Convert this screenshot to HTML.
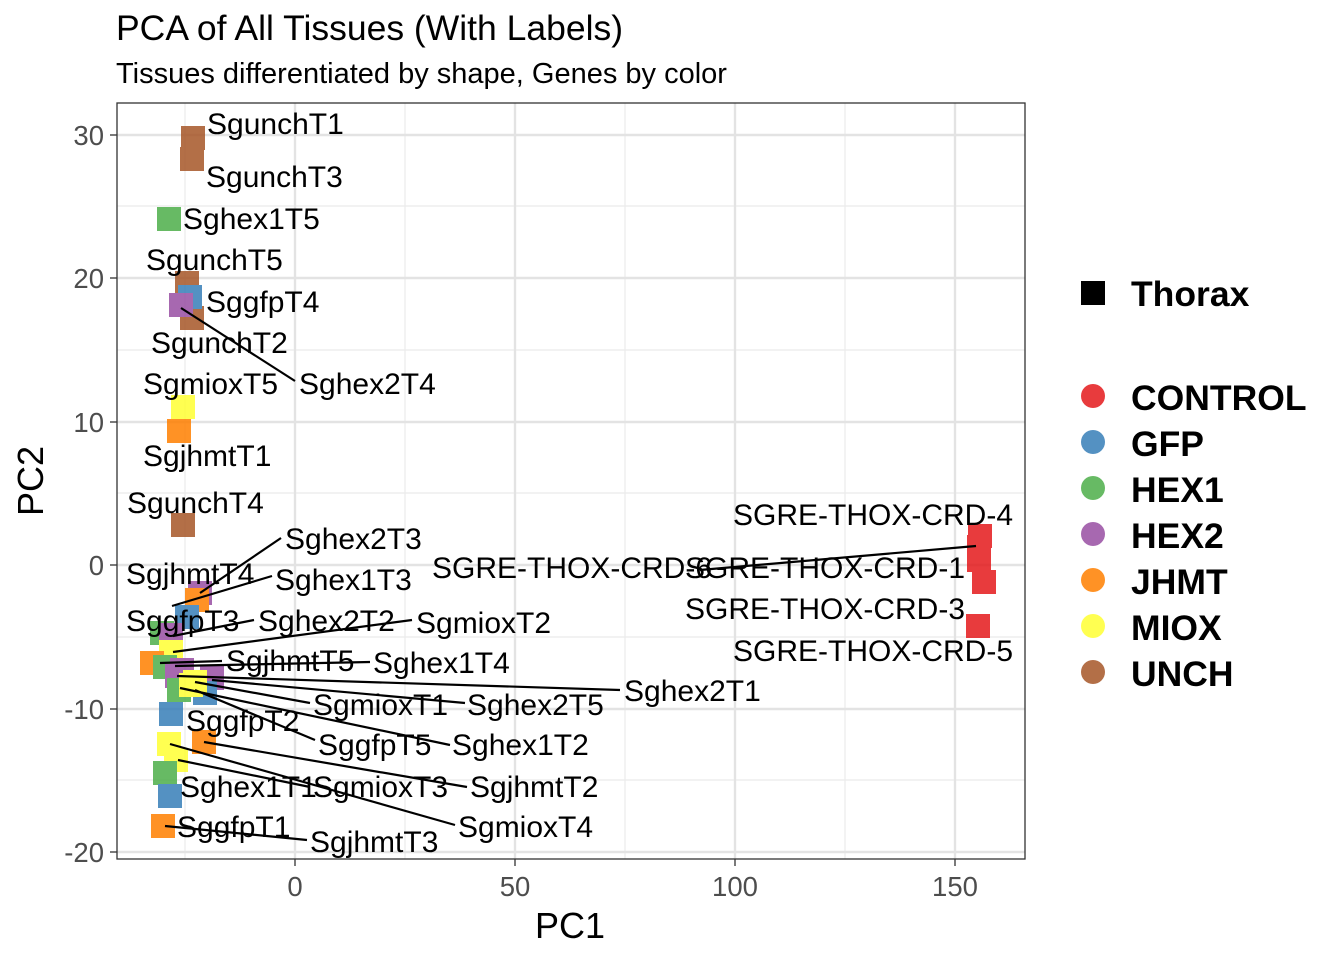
<!DOCTYPE html>
<html><head><meta charset="utf-8"><style>
html,body{margin:0;padding:0;background:#fff;}
svg{display:block;font-family:"Liberation Sans",Arial,sans-serif;}
</style></head><body>
<svg width="1344" height="960" viewBox="0 0 1344 960" xmlns="http://www.w3.org/2000/svg">
<rect width="1344" height="960" fill="#fff"/>
<text x="116" y="40" font-size="35.5" fill="#000">PCA of All Tissues (With Labels)</text>
<text x="116" y="83" font-size="29" fill="#000">Tissues differentiated by shape, Genes by color</text>
<!-- grid -->
<g stroke="#ebebeb" stroke-width="1.2">
<line x1="185" y1="103" x2="185" y2="859"/><line x1="405" y1="103" x2="405" y2="859"/>
<line x1="625" y1="103" x2="625" y2="859"/><line x1="845" y1="103" x2="845" y2="859"/>
<line x1="117" y1="206" x2="1025" y2="206"/><line x1="117" y1="350" x2="1025" y2="350"/>
<line x1="117" y1="493" x2="1025" y2="493"/><line x1="117" y1="637" x2="1025" y2="637"/>
<line x1="117" y1="780" x2="1025" y2="780"/>
</g>
<g stroke="#e3e3e3" stroke-width="2.4">
<line x1="295" y1="103" x2="295" y2="859"/><line x1="515" y1="103" x2="515" y2="859"/>
<line x1="735" y1="103" x2="735" y2="859"/><line x1="955" y1="103" x2="955" y2="859"/>
<line x1="117" y1="135" x2="1025" y2="135"/><line x1="117" y1="278" x2="1025" y2="278"/>
<line x1="117" y1="422" x2="1025" y2="422"/><line x1="117" y1="565" x2="1025" y2="565"/>
<line x1="117" y1="709" x2="1025" y2="709"/><line x1="117" y1="852" x2="1025" y2="852"/>
</g>
<!-- points -->
<g opacity="0.85">
<g fill="#A65628">
<rect x="181" y="126" width="24" height="24"/><rect x="180" y="147" width="24" height="24"/>
<rect x="175" y="271" width="24" height="24"/><rect x="180" y="306" width="24" height="24"/>
<rect x="171" y="513" width="24" height="24"/>
</g>
<rect x="157" y="207" width="24" height="24" fill="#4DAF4A"/>
<rect x="178" y="285" width="24" height="24" fill="#377EB8"/>
<rect x="169" y="293" width="24" height="24" fill="#984EA3"/>
<rect x="171" y="395" width="24" height="24" fill="#FFFF33"/>
<rect x="167" y="419" width="24" height="24" fill="#FF7F00"/>
<rect x="188" y="581" width="24" height="24" fill="#984EA3"/>
<rect x="185" y="588" width="24" height="24" fill="#FF7F00"/>
<rect x="175" y="605" width="24" height="24" fill="#377EB8"/>
<rect x="150" y="621" width="24" height="24" fill="#4DAF4A"/>
<rect x="159" y="623" width="24" height="24" fill="#984EA3"/>
<rect x="159" y="640" width="24" height="24" fill="#FFFF33"/>
<rect x="140" y="651" width="24" height="24" fill="#FF7F00"/>
<rect x="153" y="655" width="24" height="24" fill="#4DAF4A"/>
<rect x="170" y="658" width="24" height="24" fill="#984EA3"/>
<rect x="165" y="664" width="24" height="24" fill="#984EA3"/>
<rect x="200" y="666" width="24" height="24" fill="#984EA3"/>
<rect x="167" y="678" width="24" height="24" fill="#4DAF4A"/>
<rect x="193" y="681" width="24" height="24" fill="#377EB8"/>
<rect x="183" y="670" width="24" height="24" fill="#FFFF33"/>
<rect x="179" y="673" width="24" height="24" fill="#FFFF33"/>
<rect x="159" y="702" width="24" height="24" fill="#377EB8"/>
<rect x="192" y="730" width="24" height="24" fill="#FF7F00"/>
<rect x="157" y="732" width="24" height="24" fill="#FFFF33"/>
<rect x="164" y="748" width="24" height="24" fill="#FFFF33"/>
<rect x="153" y="761" width="24" height="24" fill="#4DAF4A"/>
<rect x="158" y="784" width="24" height="24" fill="#377EB8"/>
<rect x="151" y="814" width="24" height="24" fill="#FF7F00"/>
<g fill="#E41A1C">
<rect x="968" y="524" width="24" height="24"/><rect x="967" y="535" width="24" height="24"/>
<rect x="967" y="548" width="24" height="24"/><rect x="972" y="570" width="24" height="24"/>
<rect x="966" y="614" width="24" height="24"/>
</g>
</g>
<!-- segments -->
<g stroke="#000" stroke-width="2.2" fill="none">
<line x1="181" y1="308" x2="295" y2="381"/>
<line x1="200" y1="593" x2="281" y2="538"/>
<line x1="172" y1="606" x2="272" y2="576"/>
<line x1="173" y1="636" x2="254" y2="620"/>
<line x1="173" y1="652" x2="412" y2="620"/>
<line x1="160" y1="663" x2="222" y2="661"/>
<line x1="175" y1="666" x2="370" y2="662"/>
<line x1="177" y1="676" x2="620" y2="690"/>
<line x1="212" y1="680" x2="465" y2="703"/>
<line x1="195" y1="682" x2="310" y2="703"/>
<line x1="195" y1="690" x2="315" y2="740"/>
<line x1="180" y1="688" x2="450" y2="745"/>
<line x1="204" y1="742" x2="467" y2="787"/>
<line x1="170" y1="744" x2="455" y2="825"/>
<line x1="178" y1="760" x2="310" y2="787"/>
<line x1="165" y1="826" x2="307" y2="840"/>
<line x1="976" y1="546" x2="700" y2="570"/>
</g>
<!-- labels -->
<g font-size="30" fill="#000">
<text x="207" y="134">SgunchT1</text>
<text x="206" y="187">SgunchT3</text>
<text x="183" y="229">Sghex1T5</text>
<text x="146" y="270">SgunchT5</text>
<text x="206" y="312">SggfpT4</text>
<text x="151" y="353">SgunchT2</text>
<text x="143" y="394">SgmioxT5</text>
<text x="299" y="394">Sghex2T4</text>
<text x="143" y="466">SgjhmtT1</text>
<text x="127" y="513">SgunchT4</text>
<text x="285" y="549">Sghex2T3</text>
<text x="126" y="584">SgjhmtT4</text>
<text x="275" y="590">Sghex1T3</text>
<text x="126" y="631">SggfpT3</text>
<text x="258" y="631">Sghex2T2</text>
<text x="416" y="633">SgmioxT2</text>
<text x="226" y="671">SgjhmtT5</text>
<text x="373" y="673">Sghex1T4</text>
<text x="624" y="701">Sghex2T1</text>
<text x="313" y="715">SgmioxT1</text>
<text x="467" y="715">Sghex2T5</text>
<text x="186" y="731">SggfpT2</text>
<text x="318" y="755">SggfpT5</text>
<text x="452" y="755">Sghex1T2</text>
<text x="180" y="797">Sghex1T1</text>
<text x="313" y="797">SgmioxT3</text>
<text x="470" y="797">SgjhmtT2</text>
<text x="177" y="837">SggfpT1</text>
<text x="458" y="837">SgmioxT4</text>
<text x="310" y="852">SgjhmtT3</text>
<text x="733" y="525">SGRE-THOX-CRD-4</text>
<text x="432" y="578">SGRE-THOX-CRD-6</text>
<text x="685" y="578">SGRE-THOX-CRD-1</text>
<text x="685" y="619">SGRE-THOX-CRD-3</text>
<text x="733" y="661">SGRE-THOX-CRD-5</text>
</g>
<rect x="117" y="103" width="908" height="756" fill="none" stroke="#333" stroke-width="1.3"/>
<g stroke="#333" stroke-width="1.3">
<line x1="295" y1="859" x2="295" y2="866"/><line x1="515" y1="859" x2="515" y2="866"/>
<line x1="735" y1="859" x2="735" y2="866"/><line x1="955" y1="859" x2="955" y2="866"/>
<line x1="110" y1="135" x2="117" y2="135"/><line x1="110" y1="278" x2="117" y2="278"/>
<line x1="110" y1="422" x2="117" y2="422"/><line x1="110" y1="565" x2="117" y2="565"/>
<line x1="110" y1="709" x2="117" y2="709"/><line x1="110" y1="852" x2="117" y2="852"/>
</g>
<g font-size="27.5" fill="#4d4d4d" text-anchor="middle">
<text x="295" y="896">0</text><text x="515" y="896">50</text>
<text x="735" y="896">100</text><text x="955" y="896">150</text>
</g>
<g font-size="27.5" fill="#4d4d4d" text-anchor="end">
<text x="104" y="145">30</text><text x="104" y="288">20</text>
<text x="104" y="432">10</text><text x="104" y="575">0</text>
<text x="104" y="719">-10</text><text x="104" y="862">-20</text>
</g>
<text x="570" y="938" font-size="36" text-anchor="middle">PC1</text>
<text transform="translate(43,481) rotate(-90)" font-size="36" text-anchor="middle">PC2</text>
<rect x="1081" y="281" width="24" height="24" fill="#000"/>
<g font-size="35.5" font-weight="bold" fill="#000">
<text x="1131" y="306">Thorax</text>
<text x="1131" y="410">CONTROL</text>
<text x="1131" y="456">GFP</text>
<text x="1131" y="502">HEX1</text>
<text x="1131" y="548">HEX2</text>
<text x="1131" y="594">JHMT</text>
<text x="1131" y="640">MIOX</text>
<text x="1131" y="686">UNCH</text>
</g>
<g opacity="0.85">
<circle cx="1093" cy="396" r="12" fill="#E41A1C"/>
<circle cx="1093" cy="442" r="12" fill="#377EB8"/>
<circle cx="1093" cy="488" r="12" fill="#4DAF4A"/>
<circle cx="1093" cy="534" r="12" fill="#984EA3"/>
<circle cx="1093" cy="580" r="12" fill="#FF7F00"/>
<circle cx="1093" cy="626" r="12" fill="#FFFF33"/>
<circle cx="1093" cy="672" r="12" fill="#A65628"/>
</g>
</svg>
</body></html>
